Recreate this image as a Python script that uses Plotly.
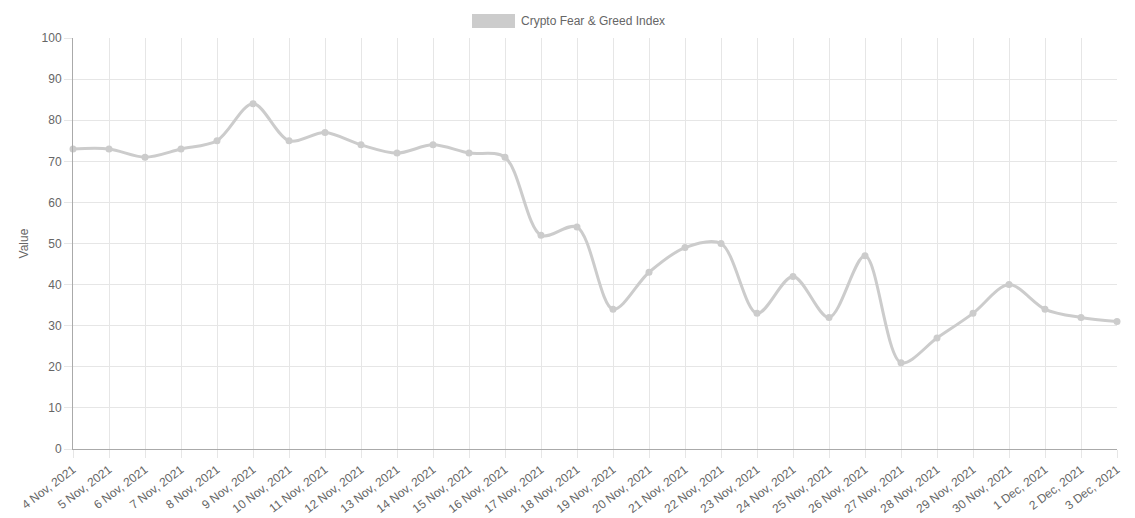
import plotly.graph_objects as go

dates = ["4 Nov, 2021", "5 Nov, 2021", "6 Nov, 2021", "7 Nov, 2021", "8 Nov, 2021",
         "9 Nov, 2021", "10 Nov, 2021", "11 Nov, 2021", "12 Nov, 2021", "13 Nov, 2021",
         "14 Nov, 2021", "15 Nov, 2021", "16 Nov, 2021", "17 Nov, 2021", "18 Nov, 2021",
         "19 Nov, 2021", "20 Nov, 2021", "21 Nov, 2021", "22 Nov, 2021", "23 Nov, 2021",
         "24 Nov, 2021", "25 Nov, 2021", "26 Nov, 2021", "27 Nov, 2021", "28 Nov, 2021",
         "29 Nov, 2021", "30 Nov, 2021", "1 Dec, 2021", "2 Dec, 2021", "3 Dec, 2021"]
values = [73, 73, 71, 73, 75, 84, 75, 77, 74, 72, 74, 72, 71, 52, 54,
          34, 43, 49, 50, 33, 42, 32, 47, 21, 27, 33, 40, 34, 32, 31]
series_name = "Crypto Fear & Greed Index"

line_color = "#cccccc"
font = dict(family="Liberation Sans, Arial, sans-serif", size=12, color="#666666")

fig = go.Figure()
fig.add_trace(go.Scatter(
    x=dates, y=values, mode="lines+markers", name=series_name,
    line=dict(color=line_color, width=3, shape="spline", smoothing=0.9),
    marker=dict(color=line_color, size=7),
    cliponaxis=False, showlegend=False,
))

# legend (Chart.js style box)
fig.add_shape(type="rect", xref="paper", yref="paper",
              x0=(472 - 73) / 1044, x1=(515 - 73) / 1044,
              y0=(449 - 28) / 411, y1=(449 - 14) / 411,
              fillcolor=line_color, line=dict(width=0))
fig.add_annotation(text=series_name, xref="paper", yref="paper",
                   x=(519 - 73) / 1044, y=(449 - 21) / 411,
                   xanchor="left", yanchor="middle", showarrow=False, font=font)

fig.update_layout(
    width=1127, height=510,
    margin=dict(l=65, r=18, t=30, b=69),
    paper_bgcolor="white", plot_bgcolor="white",
    font=font,
    xaxis=dict(type="category", range=[0, len(dates) - 1], tickangle=-37,
               showgrid=True, gridcolor="#e6e6e6", gridwidth=1,
               showline=True, linecolor="#aaaaaa", linewidth=1,
               ticks="outside", ticklen=8, tickcolor="#e6e6e6",
               tickfont=font, zeroline=False, automargin=False),
    yaxis=dict(range=[0, 100], dtick=10, showgrid=True, gridcolor="#e6e6e6",
               showline=True, linecolor="#aaaaaa", linewidth=1,
               ticks="outside", ticklen=8, tickcolor="#e6e6e6",
               tickfont=font, zeroline=False, automargin=False,
               title=dict(text="Value", font=font, standoff=10)),
)

fig.write_html("out.html")
